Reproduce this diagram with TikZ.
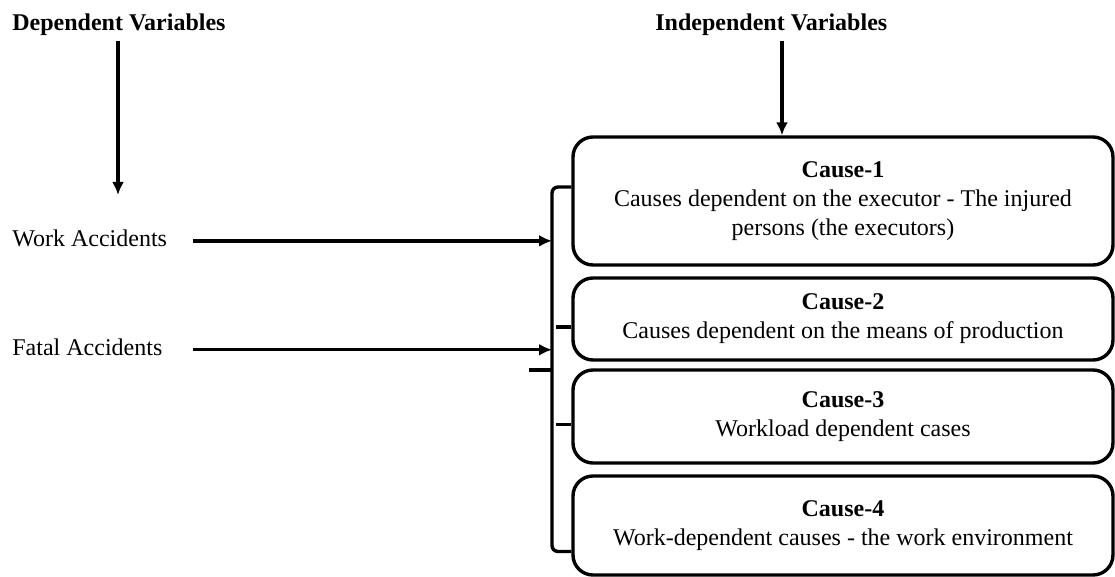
\documentclass[tikz,border=0pt]{standalone}
\usepackage{fontspec}
\setmainfont{Liberation Serif}
\usepackage{tikz}
\usetikzlibrary{arrows.meta,positioning,calc}

\tikzset{
  cause/.style={rectangle, draw, line width=1.7pt, rounded corners=10pt, minimum width=270pt, align=center, inner sep=0pt},
  arr/.style={-{Latex[length=6.5pt,width=6pt]}, line width=1.7pt},
  link/.style={line width=1.7pt},
  lbl/.style={anchor=base west, inner sep=0pt},
}

\begin{document}
\begin{tikzpicture}[x=0.5pt, y=-0.5pt, font=\fontsize{12}{14.5}\selectfont]
\useasboundingbox (0,0) rectangle (1115,577);
% headings
\node[lbl] (dep) at (12,31) {\textbf{Dependent Variables}};
\node[lbl] (indep) at (655,31) {\textbf{Independent Variables}};
% dependent variables
\node[lbl] (work) at (12,247) {Work Accidents};
\node[lbl] (fatal) at (12,356) {Fatal Accidents};
% causes
\node[cause, minimum height=64pt] (c1) at (843,201) {\textbf{Cause-1}\\Causes dependent on the executor - The injured\\persons (the executors)};
\node[cause, minimum height=41pt] (c2) at (843,319) {\textbf{Cause-2}\\Causes dependent on the means of production};
\node[cause, minimum height=46.5pt] (c3) at (843,416.5) {\textbf{Cause-3}\\Workload dependent cases};
\node[cause, minimum height=49.5pt] (c4) at (843,525.5) {\textbf{Cause-4}\\Work-dependent causes - the work environment};
% brace
\coordinate (dv) at (118,195);
\coordinate (ia) at (782,0);
\coordinate (br) at (552,370);
\draw[link, rounded corners=3pt] ([yshift=7pt]c1.west) -| (br) |- ([yshift=-13pt]c4.west);
\draw[link] (br) -- ++(-23,0);
\draw[link] ([yshift=-4pt]c2.west) -- ++(-15,0);
\draw[link] ([yshift=-4pt]c3.west) -- ++(-15,0);
% arrows
\draw[arr] ([yshift=-2pt]dep.south -| dv) -- (dv);
\draw[arr] ([yshift=-2pt]indep.south -| ia) -- (c1.north -| ia);
\draw[arr] ([xshift=13pt,yshift=-1pt]work.east) -- ([yshift=-1pt]work.east -| br);
\draw[arr] ([xshift=15pt,yshift=-1pt]fatal.east) -- ([yshift=-1pt]fatal.east -| br);
\end{tikzpicture}
\end{document}
